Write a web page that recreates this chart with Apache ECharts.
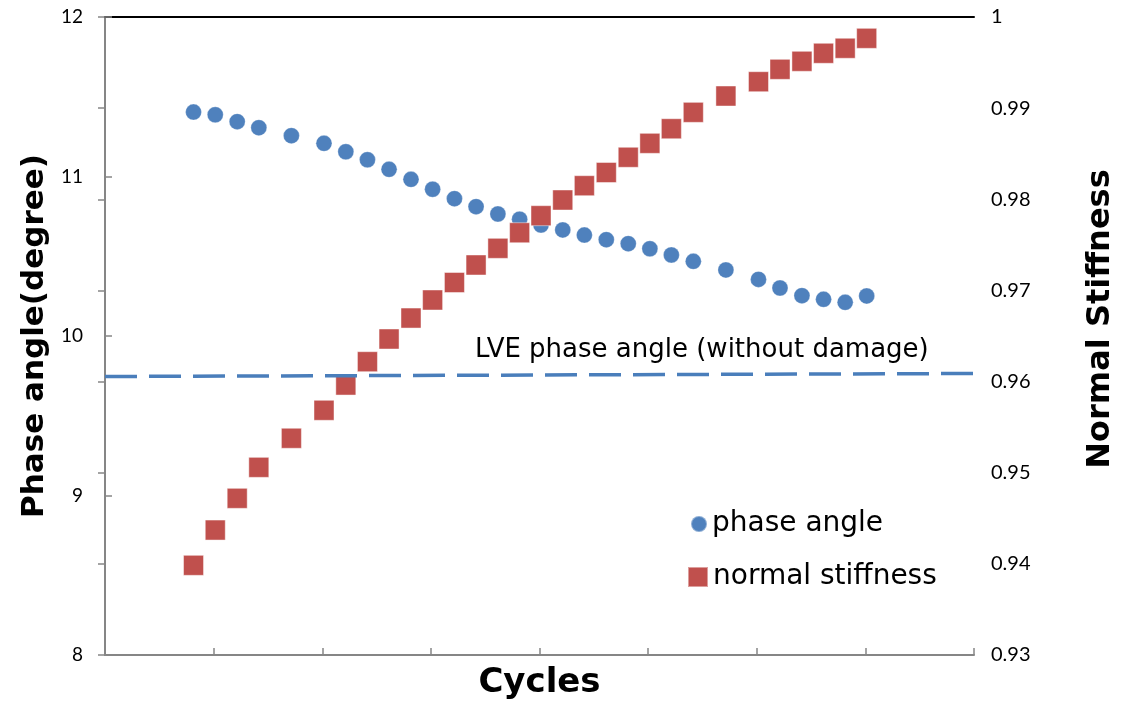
<!DOCTYPE html>
<html><head><meta charset="utf-8">
<script src="https://cdn.jsdelivr.net/npm/echarts/dist/echarts.min.js"></script>
<style>html,body{margin:0;padding:0;background:#fff}#c{width:1125px;height:706px}</style>
</head><body><div id="c"></div>
<script>
// Cycles (in axis units; x-axis has no tick labels)
const cycles = [0.815,1.015,1.217,1.416,1.716,2.016,2.217,2.416,2.615,2.817,3.016,3.217,3.416,3.617,3.817,4.014,4.214,4.413,4.615,4.817,5.016,5.214,5.416,5.716,6.016,6.214,6.416,6.615,6.814,7.012];
const phaseAngle = [11.404,11.387,11.344,11.306,11.256,11.208,11.155,11.105,11.045,10.982,10.920,10.861,10.811,10.765,10.732,10.696,10.665,10.633,10.604,10.579,10.547,10.508,10.468,10.414,10.355,10.301,10.253,10.230,10.211,10.251];
const normalStiffness = [0.93984,0.94371,0.94719,0.95059,0.95378,0.95685,0.95962,0.96218,0.96467,0.96697,0.96895,0.97087,0.97279,0.97462,0.97633,0.97820,0.97992,0.98149,0.98294,0.98461,0.98614,0.98774,0.98954,0.99133,0.99290,0.99426,0.99514,0.99602,0.99657,0.99766];
const lveCycles = [0, 8];
const lvePhase = [9.746, 9.765];
const lveLabel = 'LVE phase angle (without damage)';
const seriesNames = ['phase angle', 'normal stiffness'];
const axisNames = {x: 'Cycles', left: 'Phase angle(degree)', right: 'Normal Stiffness'};

const FONT = 'DejaVu Sans';
const TICKFONT = 'Lato';
const AXIS_GRAY = '#868686';

const chart = echarts.init(document.getElementById('c'), null, {renderer: 'canvas'});
chart.setOption({
  animation: false,
  backgroundColor: '#fff',
  grid: {left: 105, right: 149, top: 17, bottom: 51, containLabel: false},
  xAxis: [{
    type: 'value', min: 0, max: 8, interval: 1,
    name: axisNames.x, nameLocation: 'middle', nameGap: 11,
    nameTextStyle: {fontFamily: FONT, fontWeight: 'bold', fontSize: 34, color: '#000', verticalAlign: 'top'},
    axisLine: {show: true, lineStyle: {color: AXIS_GRAY, width: 2}},
    axisTick: {show: true, inside: true, length: 7, lineStyle: {color: AXIS_GRAY, width: 1.5}},
    axisLabel: {show: false},
    splitLine: {show: false}
  }, {
    type: 'value', min: 0, max: 8, position: 'top',
    axisLine: {show: true, onZero: false, lineStyle: {color: '#000', width: 2}},
    axisTick: {show: false}, axisLabel: {show: false}, splitLine: {show: false}
  }],
  yAxis: [{
    type: 'value', min: 8, max: 12, interval: 1, position: 'left',
    name: axisNames.left, nameLocation: 'middle', nameRotate: 90, nameGap: 53,
    nameTextStyle: {fontFamily: FONT, fontWeight: 'bold', fontSize: 31, color: '#000'},
    axisLine: {show: true, lineStyle: {color: AXIS_GRAY, width: 2}},
    axisTick: {show: true, inside: true, length: 7, lineStyle: {color: AXIS_GRAY, width: 1.5}},
    axisLabel: {fontFamily: TICKFONT, fontSize: 19, color: '#000', margin: 22},
    splitLine: {show: false}
  }, {
    type: 'value', min: 0.93, max: 1.0, interval: 0.01, position: 'right',
    name: axisNames.right, nameLocation: 'middle', nameRotate: 90, nameGap: 111,
    nameTextStyle: {fontFamily: FONT, fontWeight: 'bold', fontSize: 32, color: '#000', padding: [0, 0, 0, 34]},
    axisLine: {show: true, lineStyle: {color: AXIS_GRAY, width: 2}},
    axisTick: {show: true, inside: true, length: 7, lineStyle: {color: AXIS_GRAY, width: 1.5}},
    axisLabel: {fontFamily: TICKFONT, fontSize: 20, color: '#000', margin: 17,
      formatter: v => String(Math.round(v * 100) / 100)},
    splitLine: {show: false}
  }],
  legend: [{
    data: [{name: seriesNames[0], icon: 'circle'}],
    orient: 'vertical', left: 690, top: 509, padding: 0,
    itemWidth: 16, itemHeight: 16, itemGap: 0,
    textStyle: {fontFamily: FONT, fontSize: 28, color: '#000', lineHeight: 30}
  }, {
    data: [{name: seriesNames[1], icon: 'rect'}],
    orient: 'vertical', left: 687, top: 562, padding: 0,
    itemWidth: 20, itemHeight: 20, itemGap: 0,
    textStyle: {fontFamily: FONT, fontSize: 28, color: '#000', lineHeight: 30}
  }],
  graphic: [{
    type: 'text', left: 475, top: 337,
    style: {text: lveLabel, font: '26px "DejaVu Sans"', fill: '#000'}
  }],
  series: [{
    name: seriesNames[0], type: 'scatter', xAxisIndex: 0, yAxisIndex: 0,
    symbol: 'circle', symbolSize: 16, z: 2,
    itemStyle: {color: '#4f81bd', borderColor: 'rgba(255,255,255,0.35)', borderWidth: 0.8, opacity: 1},
    data: cycles.map((c, i) => [c, phaseAngle[i]])
  }, {
    name: seriesNames[1], type: 'scatter', xAxisIndex: 0, yAxisIndex: 1,
    symbol: 'rect', symbolSize: 20, z: 3,
    itemStyle: {color: '#c0504d', borderColor: 'rgba(255,255,255,0.45)', borderWidth: 1, opacity: 1},
    data: cycles.map((c, i) => [c, normalStiffness[i]])
  }, {
    name: 'LVE', type: 'line', xAxisIndex: 0, yAxisIndex: 0, z: 4,
    symbol: 'none', silent: true,
    lineStyle: {color: '#4a7ebb', width: 3.5, type: [32, 12]},
    data: lveCycles.map((c, i) => [c, lvePhase[i]])
  }]
});
</script></body></html>
